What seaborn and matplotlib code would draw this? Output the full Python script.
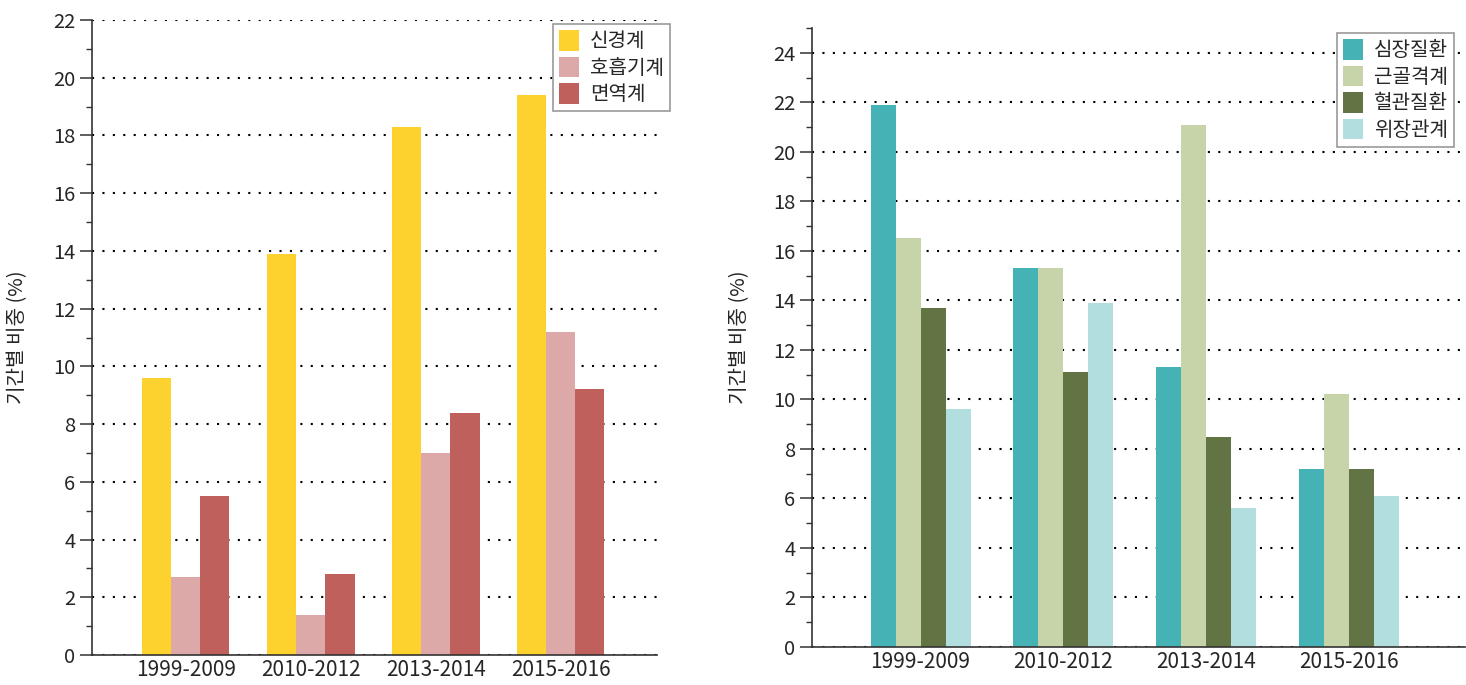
import matplotlib
matplotlib.use("Agg")
import matplotlib.pyplot as plt
import seaborn as sns
import pandas as pd
from matplotlib.patches import Patch
from matplotlib.ticker import MultipleLocator

periods = ["1999-2009", "2010-2012", "2013-2014", "2015-2016"]

left_groups = ["신경계", "호흡기계", "면역계"]
neuro = [9.6, 13.9, 18.3, 19.4]
resp = [2.7, 1.4, 7.0, 11.2]
immune = [5.5, 2.8, 8.4, 9.2]
left_colors = ["#FDD22E", "#DCA9A8", "#C0605C"]

right_groups = ["심장질환", "근골격계", "혈관질환", "위장관계"]
heart = [21.9, 15.3, 11.3, 7.2]
musculo = [16.5, 15.3, 21.1, 10.2]
vascular = [13.7, 11.1, 8.5, 7.2]
gastro = [9.6, 13.9, 5.6, 6.1]
right_colors = ["#45B3B5", "#C7D3A8", "#627443", "#B3DEE0"]

ylabel = "기간별 비중 (%)"

sns.set_theme(style="white")
plt.rcParams['font.family'] = ['Liberation Sans Narrow', 'Noto Sans CJK KR', 'DejaVu Sans']


def long_df(groups, series):
    rows = []
    for g, vals in zip(groups, series):
        for p, v in zip(periods, vals):
            rows.append({"period": p, "group": g, "value": v})
    return pd.DataFrame(rows)


fig = plt.figure(figsize=(14.66, 6.85), dpi=100)
W, H = 1466, 685


def make_ax(x0, x1, y0, y1):
    return fig.add_axes([x0 / W, 1 - y1 / H, (x1 - x0) / W, (y1 - y0) / H])


def style(ax, ymax, ytop, xlim, groups, colors, legend_box, label_x):
    ax.set_ylim(0, ytop)
    ax.set_xlim(*xlim)
    ax.yaxis.set_major_locator(MultipleLocator(2))
    ax.yaxis.set_minor_locator(MultipleLocator(1))
    ax.set_yticks(range(0, ymax + 1, 2))
    ax.grid(axis="y", which="major", linestyle=(0, (1, 4)), color="black", linewidth=1.5)
    ax.set_axisbelow(True)
    for s in ["top", "right"]:
        ax.spines[s].set_visible(False)
    for s in ["left", "bottom"]:
        ax.spines[s].set_color("#333333")
        ax.spines[s].set_linewidth(1.2)
    ax.tick_params(axis="y", which="major", direction="out", length=9, width=1.1,
                   color="#333333", left=True, labelsize=14.5, pad=3)
    ax.tick_params(axis="y", which="minor", direction="out", length=4.5, width=1.0,
                   color="#333333", left=True)
    ax.tick_params(axis="x", length=0, labelsize=15, pad=3)
    ax.set_xlabel("")
    ax.set_ylabel(ylabel, fontsize=14.5, family=['Noto Sans CJK KR', 'DejaVu Sans'])
    ax.yaxis.set_label_coords(label_x, 0.5)
    leg = ax.get_legend()
    if leg is not None:
        leg.remove()
    handles = [Patch(facecolor=c, edgecolor="none", label=g) for g, c in zip(groups, colors)]
    x0, y0, x1, y1 = legend_box
    lg = fig.legend(handles=handles, loc="upper left",
                    bbox_to_anchor=(x0 / W, 1 - y0 / H),
                    frameon=True, fancybox=False, framealpha=1,
                    edgecolor="#999999",
                    prop={"family": ['Noto Sans CJK KR', 'DejaVu Sans'], "size": 14.5},
                    handlelength=1.0, handleheight=1.2, handletextpad=0.55,
                    labelspacing=0.22, borderpad=0.3, borderaxespad=0)
    lg.get_frame().set_linewidth(1.2)


# Left chart
axL = make_ax(92, 657, 20, 655)
dfL = long_df(left_groups, [neuro, resp, immune])
sns.barplot(data=dfL, x="period", y="value", hue="group", palette=left_colors,
            width=0.7, saturation=1, ax=axL, errorbar=None, linewidth=0)
style(axL, 22, 22, (-0.75, 3.77), left_groups, left_colors, (553, 24, 676, 111), -0.113)

# Right chart
axR = make_ax(812, 1465, 28, 647)
dfR = long_df(right_groups, [heart, musculo, vascular, gastro])
sns.barplot(data=dfR, x="period", y="value", hue="group", palette=right_colors,
            width=0.7, saturation=1, ax=axR, errorbar=None, linewidth=0)
style(axR, 24, 25, (-0.76, 3.81), right_groups, right_colors, (1337, 33, 1463, 143), -0.095)

fig.savefig("out.png", dpi=100)
